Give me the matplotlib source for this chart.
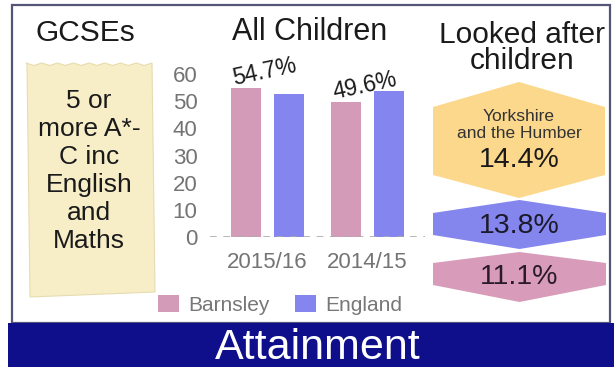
import numpy as np
import matplotlib.pyplot as plt
from matplotlib.patches import Polygon, Rectangle

plt.rcParams['font.family'] = ['Liberation Sans', 'DejaVu Sans']

# data
years = ['2015/16', '2014/15']
barnsley = [54.7, 49.6]
england = [52.6, 53.8]
series_names = ['Barnsley', 'England']
lac_labels = ['14.4%', '13.8%', '11.1%']
lac_region = 'Yorkshire\nand the Humber'
yticks = [0, 10, 20, 30, 40, 50, 60]

W, H = 614, 367
fig = plt.figure(figsize=(W / 100, H / 100), dpi=100)
fig.patch.set_facecolor('white')

# background layer in pixel coords
bg = fig.add_axes([0, 0, 1, 1])
bg.set_xlim(0, W)
bg.set_ylim(H, 0)
bg.axis('off')

bg.add_patch(Rectangle((12, 5), 598, 318, fill=False, ec='#55557a', lw=1.6))
bg.add_patch(Rectangle((8, 323), 606, 44, color='#0f0f8c', lw=0))
bg.text(318, 348, 'Attainment', color='white', fontsize=31, ha='center', va='center')

# titles
bg.text(85, 33, 'GCSEs', fontsize=21.5, ha='center', va='center', color='#1a1a1a')
bg.text(310, 32, 'All Children', fontsize=22, ha='center', va='center', color='#1a1a1a')
bg.text(522, 48, 'Looked after\nchildren', fontsize=21.5, ha='center', va='center',
        color='#1a1a1a', linespacing=0.95)

# paper note with torn top edge
xs = np.linspace(26, 152, 17)
top = [(x, 63 + (2.5 if i % 2 else 0)) for i, x in enumerate(xs)]
note = top + [(155, 292), (30, 297), (27, 64)]
bg.add_patch(Polygon(note, closed=True, fc='#f7eec8', ec='#e6dcb0', lw=0.8))
bg.text(89, 171, '5 or\nmore A*-\nC inc\nEnglish\nand\nMaths', fontsize=19,
        ha='center', va='center', linespacing=1.22, color='#1a1a1a')


def hexagon(left, right, apex_top, side_top, side_bottom, apex_bottom, color):
    cx = (left + right) / 2
    pts = [(left, side_top), (cx, apex_top), (right, side_top),
           (right, side_bottom), (cx, apex_bottom), (left, side_bottom)]
    bg.add_patch(Polygon(pts, closed=True, fc=color, ec='none'))


hexagon(433, 605, 82, 107, 175, 198, '#fcd88c')
hexagon(433, 606, 200, 213, 235, 249, '#8585ee')
hexagon(433, 606, 252, 263, 285, 302, '#d89cba')
bg.text(519, 125, lac_region, fontsize=12.5, ha='center', va='center',
        linespacing=1.12, color='#333333')
bg.text(519, 160, lac_labels[0], fontsize=20.5, ha='center', va='center', color='#1a1a1a')
bg.text(519, 226, lac_labels[1], fontsize=20.5, ha='center', va='center', color='#1a1a2a')
bg.text(519, 277, lac_labels[2], fontsize=20.5, ha='center', va='center', color='#2a1a2a')

# bar chart
ax = fig.add_axes([210 / W, (H - 237) / H, 215 / W, 163 / H])
ax.patch.set_alpha(0)
x = np.arange(len(years))
w = 0.3
b1 = ax.bar(x - 0.215, barnsley, w, color='#d49bb9', label=series_names[0])
b2 = ax.bar(x + 0.215, england, w, color='#8585f0', label=series_names[1])
ax.set_xlim(-0.57, 1.58)
ax.set_ylim(0, 60)
ax.axhline(0, color='#aaaaaa', lw=1.2, ls=(0, (4, 4)))
for s in ax.spines.values():
    s.set_visible(False)
ax.set_yticks(yticks)
ax.set_xticks(x)
ax.set_xticklabels(years)
ax.tick_params(length=0, labelsize=16, labelcolor='#747474')
ax.tick_params(axis='y', pad=9)
ax.tick_params(axis='x', pad=11)

for rect, v in zip(b1, barnsley):
    ax.annotate(f'{v}%', (rect.get_x() + rect.get_width() / 2, v),
                xytext=(14, 12), textcoords='offset points', rotation=12,
                ha='center', va='center', fontsize=16.5, color='#1a1a1a')

fig.legend(handles=[b1, b2], loc='center', bbox_to_anchor=(280 / W, (H - 305) / H),
           ncol=2, frameon=False, fontsize=15, labelcolor='#777777',
           handlelength=1.0, handleheight=0.9, handletextpad=0.45, columnspacing=1.2)

fig.savefig('out.png', dpi=100)
